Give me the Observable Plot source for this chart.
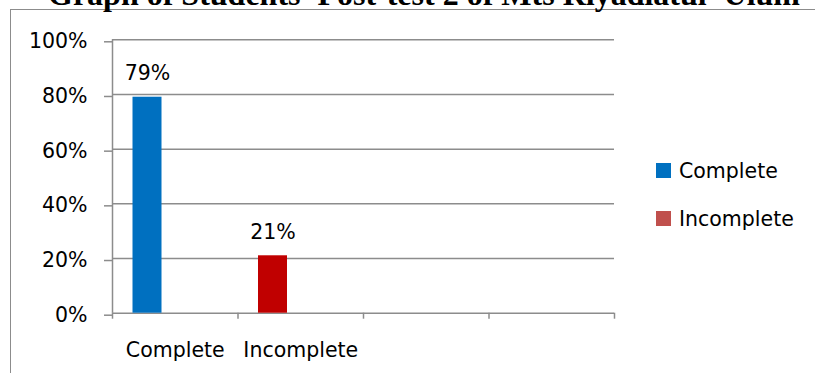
<!DOCTYPE html>
<html>
<head>
<meta charset="utf-8">
<script src="https://cdn.jsdelivr.net/npm/d3@7"></script>
<script src="https://cdn.jsdelivr.net/npm/@observablehq/plot@0.6"></script>
<style>
  body { margin: 0; background: #fff; }
  #wrap { position: relative; width: 815px; height: 373px; overflow: hidden; background: #fff; }
  #title { position: absolute; left: 0; width: 848px; top: -22.3px; text-align: center;
           font: bold 32px "Liberation Serif", "Times New Roman", serif; line-height: 32px;
           white-space: nowrap; color: #000; }
  #frame { position: absolute; left: 10px; top: 9px; width: 900px; height: 500px;
           border: 1.5px solid #8c8c8c; }
  #chart { position: absolute; left: 0; top: 0; }
  .sw { position: absolute; width: 15px; height: 15px; left: 656px; }
  .lt { position: absolute; left: 679px; font: 20.5px "DejaVu Sans", sans-serif; line-height: 20.5px;
        color: #000; white-space: nowrap; }
</style>
</head>
<body>
<div id="wrap">
  <div id="frame"></div>
  <div id="title"></div>
  <div id="chart"></div>
  <div id="legend"></div>
</div>
<script>
const titleText = "Graph of Students' Post-test 2 of Mts Riyadlatul' Ulum";
const categories = ["Complete", "Incomplete"];
const values = [0.79, 0.21];
const barColors = ["#0070C0", "#C00000"];
const legendLabels = ["Complete", "Incomplete"];
const legendColors = ["#0070C0", "#C0504D"];
const yTicks = [0, 0.2, 0.4, 0.6, 0.8, 1];
const slotCount = 4;

document.getElementById("title").textContent = titleText;

const data = categories.map((c, i) => ({c, i, v: values[i], fill: barColors[i]}));
const pct = d3.format(".0%");
const gray = "#8c8c8c";

const chart = Plot.plot({
  width: 815,
  height: 373,
  marginLeft: 112,
  marginRight: 201,
  marginTop: 39.3,
  marginBottom: 60.3,
  x: {domain: [0, slotCount], label: null},
  y: {domain: [0, 1], label: null},
  style: {fontFamily: "DejaVu Sans, sans-serif", fontSize: "20.5px", color: "#000", background: "transparent"},
  marks: [
    Plot.gridY(yTicks, {stroke: gray, strokeOpacity: 1, strokeWidth: 1.5}),
    Plot.axisY(yTicks, {tickFormat: pct, tickSize: 8, tickPadding: 17, stroke: gray, strokeWidth: 1.5, strokeOpacity: 1, dy: 2, label: null}),
    Plot.ruleX([0], {stroke: gray, strokeWidth: 1.5}),
    Plot.axisX(d3.range(slotCount + 1), {tickFormat: () => "", tickSize: 6, stroke: gray, strokeWidth: 1.5, strokeOpacity: 1, label: null}),
    Plot.axisX(categories.map((c, i) => i + 0.5), {tickFormat: d => categories[Math.floor(d)], tickSize: 0, tickPadding: 29, label: null}),
    Plot.rectY(data, {x1: "i", x2: d => d.i + 1, y1: 0, y2: "v", fill: "fill", insetLeft: 20.5, insetRight: 76}),
    Plot.text(data, {x: d => d.i + 0.5, y: "v", text: d => pct(d.v), dx: -27.75, dy: -17, lineAnchor: "bottom", fill: "#000"})
  ]
});
document.getElementById("chart").appendChild(chart);

const legend = document.getElementById("legend");
legendLabels.forEach((lab, i) => {
  const sw = document.createElement("div");
  sw.className = "sw";
  sw.style.top = (163 + i * 48) + "px";
  sw.style.background = legendColors[i];
  legend.appendChild(sw);
  const t = document.createElement("div");
  t.className = "lt";
  t.style.top = (160.7 + i * 48) + "px";
  t.textContent = lab;
  legend.appendChild(t);
});
</script>
</body>
</html>
